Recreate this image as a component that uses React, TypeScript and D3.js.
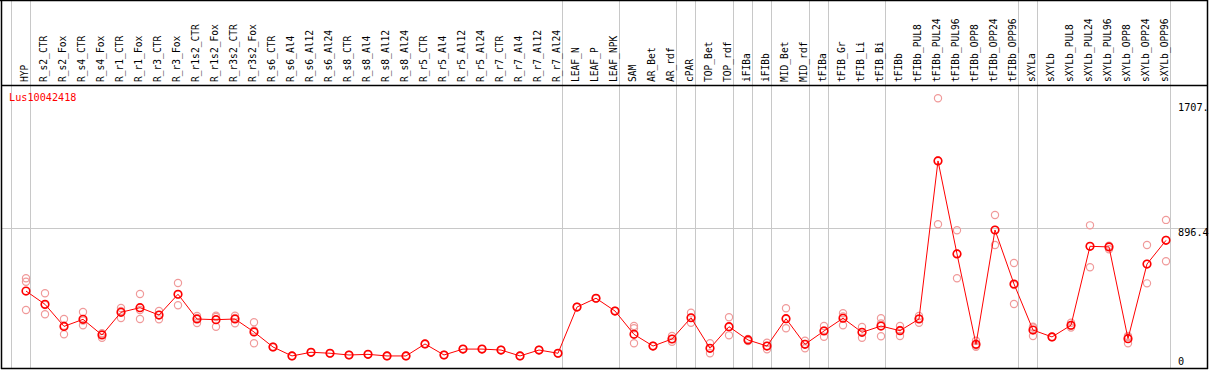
import React from "react";
import * as d3 from "d3";

const title = "Lus10042418";
const categories = [
  "HYP", "R_s2_CTR", "R_s2_Fox", "R_s4_CTR", "R_s4_Fox", "R_r1_CTR", "R_r1_Fox", "R_r3_CTR", "R_r3_Fox",
  "R_r1s2_CTR", "R_r1s2_Fox", "R_r3s2_CTR", "R_r3s2_Fox", "R_s6_CTR", "R_s6_Al4", "R_s6_Al12", "R_s6_Al24",
  "R_s8_CTR", "R_s8_Al4", "R_s8_Al12", "R_s8_Al24", "R_r5_CTR", "R_r5_Al4", "R_r5_Al12", "R_r5_Al24",
  "R_r7_CTR", "R_r7_Al4", "R_r7_Al12", "R_r7_Al24", "LEAF_N", "LEAF_P", "LEAF_NPK", "SAM", "AR_Bet", "AR_rdf",
  "cPAR", "TOP_Bet", "TOP_rdf", "iFIBa", "iFIBb", "MID_Bet", "MID_rdf", "tFIBa", "tFIB_Gr", "tFIB_Li", "tFIB_Bi",
  "tFIBb", "tFIBb_PUL8", "tFIBb_PUL24", "tFIBb_PUL96", "tFIBb_OPP8", "tFIBb_OPP24", "tFIBb_OPP96",
  "sXYLa", "sXYLb", "sXYLb_PUL8", "sXYLb_PUL24", "sXYLb_PUL96", "sXYLb_OPP8", "sXYLb_OPP24", "sXYLb_OPP96",
];
// group separators: index of first category of each group
const groupStarts = [0, 1, 29, 32, 35, 36, 38, 39, 40, 42, 43, 46, 53, 54, 61];

const meanValues = [
  502, 419, 281, 325, 227, 369, 398, 352, 482, 327, 323, 327, 246, 152, 96, 119, 113,
  102, 106, 96, 96, 171, 102, 139, 139, 133, 96, 133, 113, 402, 457, 377, 231, 158, 202,
  335, 144, 279, 196, 158, 329, 169, 252, 332, 244, 283,
  254, 327, 1316, 734, 169, 884, 546,
  258, 215, 288, 782, 778, 204, 671, 819,
];
const rep1 = [
  582, 488, 327, 371, 210, 396, 484, 377, 552, 346, 348, 348, 307, 150, 96, 119, 113,
  102, 106, 96, 96, 171, 102, 139, 139, 133, 96, 133, 113, 402, 457, 377, 283, 158, 221,
  367, 175, 338, 202, 179, 394, 191, 283, 363, 277, 332,
  283, 346, 1707.7, 882, 191, 978, 677,
  279, 215, 304, 913, 783, 221, 790, 947,
];
const rep2 = [
  560, 357, 231, 288, 238, 333, 327, 325, 413, 302, 279, 300, 175, 154, 96, 119, 113,
  102, 106, 96, 96, 171, 102, 139, 139, 133, 96, 133, 113, 402, 457, 377, 269, 158, 185,
  304, 113, 225, 190, 138, 269, 144, 216, 288, 210, 219,
  221, 304, 920, 582, 154, 790, 421,
  221, 215, 274, 651, 763, 175, 550, 688,
];
const rep3 = [
  383, 415, 285, 317, 233, 377, 383, 352, 480, 333, 340, 333, 255, 152, 96, 119, 113,
  102, 106, 96, 96, 171, 102, 139, 139, 133, 96, 133, 113, 402, 457, 377, 175, 158, 202,
  335, 144, 277, 196, 158, 327, 171, 255, 343, 244, 299,
  258, 330, 1319, 737, 161, 884, 540,
  274, 215, 285, 782, 786, 215, 671, 821,
];
const axisTicks = ["0", "896.4", "1707."];
const axisTickValues = [0, 896.4, 1707.7];

const W = 1209;
const H = 370;
const plotLeft = 11;
const plotRight = 1170;
const headerY = 85;
const bottomY = 368;

export default function App() {
  const x = d3.scaleBand<string>().domain(categories).range([plotLeft, plotRight]).padding(0);
  const y = d3.scaleLinear().domain([0, 1707.7]).range([371.3, 98.3]);
  const px = (c: string) => (x(c) as number) + 15;
  const line = d3
    .line<number>()
    .x((_, i) => px(categories[i]))
    .y((d) => y(d));
  const reps = [rep1, rep2, rep3];
  const font = "'DejaVu Sans Mono', monospace";
  const tickLabelY = [365, 236, 111];

  return (
    <svg
      width={W}
      height={H}
      style={{ position: "absolute", left: 0, top: 0, background: "#fff" }}
    >
      <defs>
        <clipPath id="plotclip">
          <rect x={1} y={headerY + 1} width={1206} height={bottomY - headerY - 1} />
        </clipPath>
      </defs>
      <rect x={0} y={0} width={W} height={H} fill="#fff" />
      {/* vertical group separators */}
      {groupStarts.map((g, i) => {
        const gx = g < categories.length ? (x(categories[g]) as number) : plotRight;
        return (
          <line key={i} x1={gx + 0.5} x2={gx + 0.5} y1={0} y2={bottomY} stroke="#c8c8c8" strokeWidth={1} />
        );
      })}
      {/* horizontal gridline */}
      <line x1={1} x2={1207} y1={Math.round(y(896.4)) + 0.5} y2={Math.round(y(896.4)) + 0.5} stroke="#c8c8c8" strokeWidth={1} />
      {/* category labels */}
      {categories.map((c) => (
        <text
          key={c}
          transform={`translate(${(x(c) as number) + 17},82) rotate(-90)`}
          fontFamily={font}
          fontSize={9.6}
          fill="#000"
          textAnchor="start"
        >
          {c}
        </text>
      ))}
      {/* frame */}
      <line x1={0} x2={1208} y1={0.5} y2={0.5} stroke="#000" strokeWidth={1.5} />
      <line x1={1.5} x2={1.5} y1={0} y2={369} stroke="#000" strokeWidth={1.5} />
      <line x1={1} x2={1208} y1={headerY + 0.5} y2={headerY + 0.5} stroke="#000" strokeWidth={1.5} />
      <line x1={1} x2={1208} y1={bottomY + 0.5} y2={bottomY + 0.5} stroke="#000" strokeWidth={1.5} />
      <line x1={1207.5} x2={1207.5} y1={0} y2={369} stroke="#000" strokeWidth={1.5} />
      {/* title */}
      <text x={9} y={101} fontFamily={font} fontSize={10.2} fill="#ff0000">
        {title}
      </text>
      {/* axis labels */}
      {axisTicks.map((t, i) => (
        <text key={t} x={1178} y={tickLabelY[i]} fontFamily={font} fontSize={10.2} fill="#000">
          {t}
        </text>
      ))}
      <g clipPath="url(#plotclip)">
        {reps.map((r, ri) =>
          r.map((v, i) => (
            <circle
              key={`r${ri}-${i}`}
              cx={px(categories[i])}
              cy={y(v)}
              r={3.6}
              fill="none"
              stroke="#f09a9a"
              strokeWidth={1.2}
            />
          ))
        )}
        <path d={line(meanValues) || ""} fill="none" stroke="#ff0000" strokeWidth={1} />
        {meanValues.map((v, i) => (
          <circle
            key={`m${i}`}
            cx={px(categories[i])}
            cy={y(v)}
            r={3.8}
            fill="none"
            stroke="#ff0000"
            strokeWidth={1.6}
          />
        ))}
      </g>
    </svg>
  );
}
